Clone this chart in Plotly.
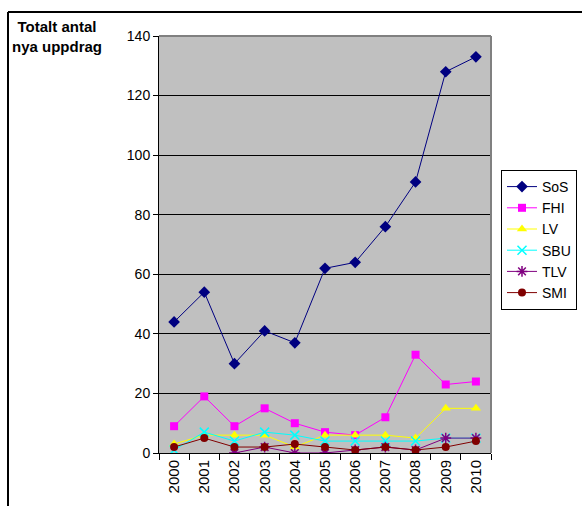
import plotly.graph_objects as go

years = ["2000", "2001", "2002", "2003", "2004", "2005", "2006", "2007", "2008", "2009", "2010"]
sos = [44, 54, 30, 41, 37, 62, 64, 76, 91, 128, 133]
fhi = [9, 19, 9, 15, 10, 7, 6, 12, 33, 23, 24]
lv = [3, 6, 6, 6, 2, 6, 6, 6, 5, 15, 15]
sbu = [1, 7, 4, 7, 6, 4, 4, 4, 4, 5, 5]
tlv = [None, None, 0, 2, 0, 0, 1, 2, 1, 5, 5]
smi = [2, 5, 2, 2, 3, 2, 1, 2, 1, 2, 4]
y_ticks = [0, 20, 40, 60, 80, 100, 120, 140]

series = [
    ("SoS", sos, "#000080", "diamond", 9),
    ("FHI", fhi, "#FF00FF", "square", 8),
    ("LV", lv, "#FFFF00", "triangle-up", 9),
    ("SBU", sbu, "#00FFFF", "x-thin-open", 9),
    ("TLV", tlv, "#800080", "asterisk-open", 9),
    ("SMI", smi, "#800000", "circle", 8),
]

fig = go.Figure()
for name, vals, color, sym, size in series:
    marker = dict(symbol=sym, color=color, size=size)
    if sym.endswith("open"):
        marker["line"] = dict(color=color, width=1.5)
    fig.add_trace(go.Scatter(
        x=years, y=vals, name=name, mode="lines+markers",
        line=dict(color=color, width=1), marker=marker, connectgaps=False,
    ))

W, H = 582, 506
L, R, T, B = 159, 491, 36, 453
pw, ph = R - L, B - T

fig.update_layout(
    width=W, height=H,
    margin=dict(l=L, r=W - R, t=T, b=H - B, pad=0, autoexpand=False),
    paper_bgcolor="white",
    plot_bgcolor="#C0C0C0",
    font=dict(family="Arial, Liberation Sans, sans-serif", size=14, color="black"),
    showlegend=True,
    legend=dict(
        x=(501 - L) / pw, y=(B - 170) / ph, xanchor="left", yanchor="top",
        bgcolor="white", bordercolor="black", borderwidth=1,
        font=dict(size=14), itemwidth=30, tracegroupgap=0,
    ),
    xaxis=dict(
        type="category", showgrid=False, showline=True, linecolor="black",
        linewidth=1, ticks="outside", tickson="boundaries", ticklen=6,
        tickcolor="black", tickangle=-90, tickfont=dict(size=15),
        range=[-0.5, 10.5], zeroline=False, automargin=False,
    ),
    yaxis=dict(
        range=[0, 140], tickvals=y_ticks, showgrid=True, gridcolor="black",
        gridwidth=1, showline=True, linecolor="black", linewidth=1,
        ticks="outside", ticklen=5, tickcolor="black", zeroline=False,
        tickfont=dict(size=14), automargin=False,
    ),
    shapes=[
        dict(type="line", xref="paper", yref="paper", x0=0, x1=1, y0=1, y1=1,
             line=dict(color="#808080", width=2)),
        dict(type="line", xref="paper", yref="paper", x0=1, x1=1, y0=0, y1=1,
             line=dict(color="#808080", width=2)),
        dict(type="line", xref="paper", yref="paper",
             x0=(8 - L) / pw, x1=(W + 5 - L) / pw, y0=(B - 12) / ph, y1=(B - 12) / ph,
             line=dict(color="black", width=2)),
        dict(type="line", xref="paper", yref="paper",
             x0=(8 - L) / pw, x1=(8 - L) / pw, y0=(B - 12) / ph, y1=(B - H - 5) / ph,
             line=dict(color="black", width=2)),
    ],
    annotations=[
        dict(text="<b>Totalt antal<br>nya uppdrag</b>", xref="paper", yref="paper",
             x=(57 - L) / pw, y=(B - 16) / ph, xanchor="center", yanchor="top",
             showarrow=False, font=dict(size=15, color="black"), align="center"),
    ],
)

fig.write_html(
    "out.html",
    config={"displayModeBar": False},
    post_script="document.body.style.margin='0';document.body.style.overflow='hidden';",
)
